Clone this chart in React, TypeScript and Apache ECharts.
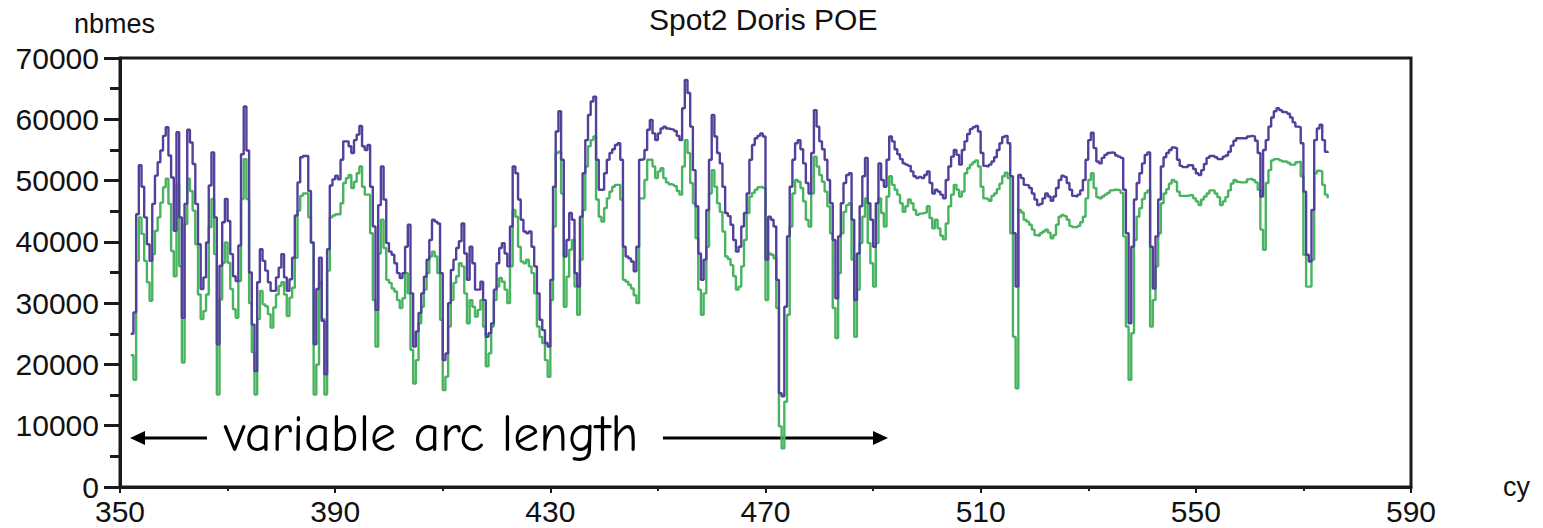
import React, { useEffect, useRef } from "react";
import * as echarts from "echarts";

// ---- data ----
const TITLE = "Spot2 Doris POE";
const X_NAME = "cy";
const Y_NAME = "nbmes";
const X_MIN = 350;
const X_MAX = 590;
const X_INTERVAL = 40;
const Y_MIN = 0;
const Y_MAX = 70000;
const Y_INTERVAL = 10000;
const ANNOTATION = "variable arc length";

// samples start at cycle 352, one sample every half cycle
const CYCLE_START = 352;
const CYCLE_STEP = 0.5;

// upper (purple) series
const PURPLE: number[] = [
  25000, 28500, 44500, 52500, 49000, 44000, 39600, 36900, 46200, 50800,
  53000, 54900, 57300, 58700, 54100, 50500, 41800, 57900, 44000, 27600,
  46200, 58300, 56200, 52700, 46200, 39600, 32300, 34200, 39900, 49200,
  54600, 44000, 23300, 36100, 43200, 47000, 43400, 38000, 34400, 33600,
  39400, 54300, 62100, 54900, 35000, 26500, 18900, 33400, 38800, 36900,
  35300, 33400, 32000, 32000, 34200, 35800, 38000, 34200, 32000, 33900,
  37400, 44300, 49700, 53800, 54000, 54000, 48300, 39900, 23300, 32300,
  37400, 27100, 18400, 38800, 49200, 50200, 50800, 50200,
  53400, 56400, 56400, 55600, 54500, 56600, 57500, 58900, 55600, 55000,
  55800, 49000, 42500, 28900, 46000, 52300, 46900, 39800, 38400, 37900,
  36500, 34900, 34100, 34900, 39200, 42800, 31600, 22900, 25400, 28400,
  31600, 34300, 37100, 40300, 43600, 43300, 43000, 34900, 20700, 21800,
  30000, 35400, 37100, 39000, 40100, 43000, 38100, 33800, 39200, 36500,
  32200, 32200, 33500, 30500, 24500, 25100, 26700, 32200, 36500, 39000,
  39800, 38100, 36000, 42500, 52300, 51200, 46900, 43600, 41700, 41400,
  41700, 39200, 36000, 31600, 27300, 25600, 23500,
  22900, 33800, 49000, 58000, 61300, 53400, 37600, 40300, 44700, 43600,
  34900, 32700, 44100, 51200, 56600, 60700, 62900, 63700, 53400, 48500,
  48500, 51200, 53400, 54500, 55100, 55800, 56100, 53400, 39200, 37600,
  37300, 36800, 35200, 39200, 53400, 53500, 55000, 58300, 59900, 57700,
  56600, 57700, 58500, 58800, 58500, 58400, 58300, 58100, 57300, 56600,
  61800, 66400, 64300, 58800, 51700, 45800, 38100, 33800, 37100, 45200,
  53400, 60700, 57200, 54500, 52800, 49000, 44700, 44200, 42800, 40300,
  38400, 39200, 42500, 44700, 47900, 53400, 55800, 56900, 57300, 57700, 57200, 37100,
  44100, 43600, 42500, 33800, 15300, 14800, 29400, 40900, 49000, 53400,
  56100, 56600, 55100, 52800, 49600, 47900, 54500, 61500, 58800, 56400,
  55100, 53400, 50100, 46300, 40300, 30800, 40900, 46300, 49600, 50900,
  51200, 43600, 30500, 38100, 45800, 50700, 53700, 46300, 43600, 39200,
  46300, 52800, 50100, 49000, 53400, 57200, 56400, 55100, 54300, 53500,
  52800, 52600, 52400, 51500, 50700, 50400, 50600, 50400, 50900, 51500,
  49600, 47900, 48500, 48200, 47700, 47100, 50100, 52300, 53900, 55000,
  54200, 52600, 55000, 56400, 57600, 58400, 58700, 58900, 58000, 54500, 52400,
  52300, 52600, 53100, 53800, 55000, 56100, 57100, 57300, 56100, 50700,
  41400, 32700, 50900, 50400, 49300, 49200, 48800, 47900, 46900, 46000,
  46200, 47100, 47900, 47400, 46700, 47400, 48800, 50100, 50800, 50600,
  49600, 48500, 47500, 47400, 47700, 48400, 50100, 53400, 56600, 57800,
  55300, 53100, 52800, 53700, 54200, 54500, 54600, 54500, 54100, 53900,
  53700, 48500, 41400, 26700, 39200, 46900, 49600, 51200, 52800, 54200,
  54600, 39200, 32400, 40900, 46900, 52300, 53800, 54500, 55000, 55400,
  55300, 53400, 52400, 52200, 52200, 52500, 52500, 51900, 51200, 50900, 51700, 52700,
  53700, 54000, 54000, 53800, 53500, 53500, 53900, 54100, 54700, 55700,
  56500, 56900, 56900, 56900, 56900, 57200, 57300, 57200, 56500, 54500,
  47400, 55000, 56600, 58800, 60300, 61300, 61800, 61500, 61200, 61100,
  60900, 60300, 59500, 58800, 58700, 56100, 48200, 37900, 36800, 45200,
  56600, 58500, 59100, 56600, 54700, 54500,
];

// lower (green) series
const GREEN: number[] = [
  21500, 17500, 36900, 44000, 41300, 36900, 33400, 30400, 38000, 41800,
  44000, 46400, 48900, 50300, 46200, 38500, 34400, 49400, 36000, 20300,
  42900, 50300, 48300, 45100, 39600, 31400, 27400, 28700, 31400, 42400,
  47000, 38000, 15100, 30600, 36600, 39900, 36600, 32300, 29000, 27600,
  33600, 47000, 53500, 47000, 30000, 22000, 15100, 27400, 32000, 29800,
  29500, 28200, 26000, 29300, 31400, 32800, 33400, 31400, 27900, 30900,
  32500, 37400, 45100, 47500, 47900, 47900, 44000, 39900, 15100, 20000,
  33400, 27400, 15100, 35300, 44000, 44300, 44500, 44500,
  46300, 49600, 50400, 50900, 48800, 49800, 51200, 52300, 49000, 47700,
  47700, 41400, 30500, 22900, 38100, 43600, 39000, 33800, 33300, 32400,
  31900, 30500, 29200, 30800, 34900, 31600, 22400, 16900, 20700, 26700,
  29400, 32200, 34900, 37600, 38400, 37600, 34900, 27300, 15800, 18000,
  26200, 30500, 33300, 34400, 36500, 36000, 31600, 26700, 30500, 29400,
  27800, 28900, 30500, 26200, 19700, 21800, 26200, 30500, 32700, 34100,
  33500, 32200, 30000, 36000, 45200, 44100, 39200, 36800, 36500, 37100,
  36000, 34900, 31600, 26200, 24500, 23500, 20700,
  18000, 30500, 42500, 54500, 54700, 47900, 29400, 34300, 38700, 40300,
  32700, 28100, 37100, 45200, 52300, 55600, 56600, 57200, 46900, 44100,
  43300, 45500, 47100, 48200, 49000, 49300, 49300, 46900, 33800, 33500,
  33000, 32400, 31300, 30000, 47100, 47100, 50100, 53400, 53400, 52300,
  50400, 51500, 52000, 50400, 49700, 49400, 49300, 49100, 48300, 47700,
  52300, 56600, 54500, 49600, 46300, 40600, 32200, 28100, 31600, 39200,
  47900, 51700, 49000, 46300, 44900, 41700, 37600, 37200, 36200, 34400,
  32200, 32700, 36000, 40300, 44700, 47400, 48000, 48500, 48900, 49000, 48800, 30500,
  38100, 37900, 37300, 29200, 9900, 6300, 13900, 28100, 42500, 47900,
  50100, 49800, 48800, 46600, 43600, 42500, 47900, 53900, 52300, 50900,
  49800, 48200, 45800, 41400, 29200, 24300, 34900, 41400, 44900, 46000,
  46300, 37100, 24500, 32200, 39800, 44100, 47100, 39800, 36500, 32700,
  39800, 47100, 44700, 42500, 47400, 50700, 49300, 48500, 47700, 46300,
  44900, 45800, 46900, 46300, 45200, 44400, 44600, 44700, 44800, 45800,
  43900, 42200, 43600, 42200, 41000, 40400, 43000, 45800, 47700, 49300,
  48500, 47400, 48200, 51200, 52000, 52600, 53000, 53300, 52300, 49000, 47100,
  47000, 46700, 47500, 47900, 48600, 49500, 50700, 51300, 50400, 41400,
  24500, 16100, 45200, 44800, 43600, 43300, 42800, 42000, 41100, 41000,
  41400, 41700, 42000, 41500, 40600, 41100, 42800, 44100, 44400, 44200,
  43600, 42600, 42400, 42400, 42600, 43200, 44100, 47100, 50100, 51200,
  48800, 47300, 47100, 47400, 47700, 48000, 48400, 48500, 48500, 48400,
  48000, 40900, 26200, 17500, 25100, 40300, 44100, 45500, 47000, 48000,
  48400, 26200, 30500, 36000, 41400, 46300, 47900, 48600, 49500, 50100,
  49800, 48200, 47500, 47500, 47500, 47600, 47600, 47100, 46600, 46000, 46900, 47400,
  47900, 48400, 48400, 47900, 47300, 46000, 46600, 47300, 48400, 49500,
  50100, 49800, 49700, 49700, 49700, 50200, 50300, 50100, 49700, 48500,
  42000, 38700, 49600, 51700, 53300, 53500, 53500, 53300, 53100, 53100,
  52900, 52600, 52600, 53000, 53100, 50700, 37900, 32700, 32700, 37100,
  51200, 51600, 51500, 49300, 47700, 47100,
];

const PURPLE_COLOR = "#53409b";
const GREEN_COLOR = "#48b460";
const AXIS_COLOR = "#1a1a1a";
const FONT = "'Liberation Sans', Arial, Helvetica, sans-serif";
const HAND_FONT = "'Comic Sans MS', 'Comic Neue', 'Open Sans', sans-serif";

export default function App() {
  const ref = useRef<HTMLDivElement>(null);

  useEffect(() => {
    if (!ref.current) return;
    const chart = echarts.init(ref.current, null, { renderer: "svg" });
    const toPairs = (vals: number[]) =>
      vals.map((v, i) => [CYCLE_START + i * CYCLE_STEP, v]);

    chart.setOption({
      animation: false,
      backgroundColor: "#ffffff",
      title: {
        text: TITLE,
        left: 649,
        top: 4,
        padding: 0,
        textStyle: {
          fontFamily: FONT,
          fontSize: 30,
          fontWeight: "normal",
          color: "#111111",
        },
      },
      grid: {
        left: 120,
        right: 132,
        top: 58,
        bottom: 41,
        show: true,
        borderColor: AXIS_COLOR,
        borderWidth: 3,
        backgroundColor: "transparent",
      },
      xAxis: {
        type: "value",
        min: X_MIN,
        max: X_MAX,
        interval: X_INTERVAL,
        name: X_NAME,
        nameLocation: "end",
        nameGap: 92,
        nameTextStyle: {
          fontFamily: FONT,
          fontSize: 27,
          color: "#111111",
          align: "left",
          verticalAlign: "middle",
          padding: [0, 0, 9, 0],
        },
        axisLine: { show: true, onZero: false, lineStyle: { color: AXIS_COLOR, width: 3 } },
        axisTick: { show: true, inside: false, length: 6, lineStyle: { color: AXIS_COLOR, width: 2 } },
        minorTick: { show: true, splitNumber: 2, length: 4, lineStyle: { color: AXIS_COLOR, width: 2 } },
        axisLabel: { fontFamily: FONT, fontSize: 30, color: "#111111", margin: 9 },
        splitLine: { show: false },
        minorSplitLine: { show: false },
      },
      yAxis: {
        type: "value",
        min: Y_MIN,
        max: Y_MAX,
        interval: Y_INTERVAL,
        name: Y_NAME,
        nameLocation: "end",
        nameGap: 34,
        nameTextStyle: {
          fontFamily: FONT,
          fontSize: 27,
          color: "#111111",
          align: "center",
          verticalAlign: "middle",
          padding: [0, 11, 0, 0],
        },
        axisLine: { show: true, lineStyle: { color: AXIS_COLOR, width: 3 } },
        axisTick: { show: true, inside: false, length: 16, lineStyle: { color: AXIS_COLOR, width: 3 } },
        minorTick: { show: true, splitNumber: 2, length: 10, lineStyle: { color: AXIS_COLOR, width: 3 } },
        axisLabel: {
          fontFamily: FONT,
          fontSize: 30,
          color: "#111111",
          margin: 21,
          formatter: (v: number) => String(v),
        },
        splitLine: { show: false },
        minorSplitLine: { show: false },
      },
      graphic: [
        {
          type: "text",
          x: 224,
          y: 434,
          style: {
            text: ANNOTATION,
            fontFamily: HAND_FONT,
            fontSize: 52,
            fill: "#000000",
            align: "left",
            verticalAlign: "middle",
            textAlign: "left",
            textVerticalAlign: "middle",
          },
        },
        {
          type: "line",
          shape: { x1: 143, y1: 438, x2: 207, y2: 438 },
          style: { stroke: "#000000", lineWidth: 3 },
        },
        {
          type: "polygon",
          shape: { points: [[130, 438], [145, 431], [145, 445]] },
          style: { fill: "#000000" },
        },
        {
          type: "line",
          shape: { x1: 663, y1: 438, x2: 874, y2: 438 },
          style: { stroke: "#000000", lineWidth: 3 },
        },
        {
          type: "polygon",
          shape: { points: [[888, 438], [873, 431], [873, 445]] },
          style: { fill: "#000000" },
        },
      ],
      series: [
        {
          name: "green",
          type: "line",
          step: "end",
          showSymbol: false,
          data: toPairs(GREEN),
          lineStyle: { color: GREEN_COLOR, width: 2.4 },
          itemStyle: { color: GREEN_COLOR },
        },
        {
          name: "purple",
          type: "line",
          step: "end",
          showSymbol: false,
          data: toPairs(PURPLE),
          lineStyle: { color: PURPLE_COLOR, width: 2.4 },
          itemStyle: { color: PURPLE_COLOR },
        },
      ],
    });

    return () => chart.dispose();
  }, []);

  return (
    <div
      ref={ref}
      style={{
        position: "fixed",
        left: 0,
        top: 0,
        width: 1543,
        height: 528,
        background: "#ffffff",
      }}
    />
  );
}
